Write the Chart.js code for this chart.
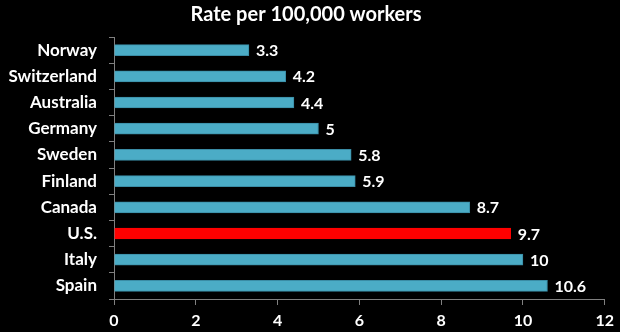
<!DOCTYPE html>
<html>
<head>
<meta charset="utf-8">
<script src="https://cdn.jsdelivr.net/npm/chart.js@4"></script>
<style>
  html, body { margin: 0; padding: 0; background: #000; }
  #wrap { width: 620px; height: 332px; }
</style>
</head>
<body>
<div id="wrap"><canvas id="myChart" width="620" height="332"></canvas></div>
<script>
const countries = ['Norway', 'Switzerland', 'Australia', 'Germany', 'Sweden', 'Finland', 'Canada', 'U.S.', 'Italy', 'Spain'];
const rates = [3.3, 4.2, 4.4, 5, 5.8, 5.9, 8.7, 9.7, 10, 10.6];
const highlight = 'U.S.';
const xTicks = [0, 2, 4, 6, 8, 10, 12];

const FONT = 'Lato, "Open Sans", sans-serif';
const blue = '#4BACC6';
const blueEdge = '#3A8CA5';
const red = '#FF0000';

// draws the value just past the end of each bar
const valueLabels = {
  id: 'valueLabels',
  afterDatasetsDraw(chart) {
    const ctx = chart.ctx;
    const meta = chart.getDatasetMeta(0);
    ctx.save();
    ctx.font = 'bold 16px ' + FONT;
    ctx.fillStyle = '#fff';
    ctx.textAlign = 'left';
    ctx.textBaseline = 'middle';
    meta.data.forEach((bar, i) => {
      ctx.fillText(String(rates[i]), bar.x + 7, bar.y + 1);
    });
    ctx.restore();
  }
};

const ctx = document.getElementById('myChart').getContext('2d');
new Chart(ctx, {
  type: 'bar',
  data: {
    labels: countries,
    datasets: [{
      data: rates,
      backgroundColor: countries.map(c => c === highlight ? red : blue),
      borderColor: countries.map(c => c === highlight ? red : blueEdge),
      borderWidth: 1,
      borderSkipped: 'start',
      barThickness: 11,
    }],
  },
  options: {
    indexAxis: 'y',
    responsive: false,
    animation: false,
    devicePixelRatio: 1,
    layout: { padding: { left: 0, right: 8, top: 0, bottom: 0 } },
    plugins: {
      legend: { display: false },
      tooltip: { enabled: false },
      title: {
        display: true,
        text: 'Rate per 100,000 workers',
        color: '#fff',
        font: { family: FONT, size: 20, weight: 'bold' },
        padding: { top: 3, bottom: 10 },
      },
    },
    scales: {
      x: {
        min: 0,
        max: 12,
        afterBuildTicks: scale => { scale.ticks = xTicks.map(v => ({ value: v })); },
        grid: { drawOnChartArea: false, drawTicks: true, tickLength: 6, color: '#808080' },
        border: { color: '#808080', width: 1 },
        ticks: { color: '#fff', font: { family: FONT, size: 16, weight: 'bold' }, padding: 6 },
        afterFit: scale => { scale.height = 33; },
      },
      y: {
        grid: { drawOnChartArea: false, drawTicks: true, tickLength: 5, color: '#808080', offset: true },
        border: { color: '#808080', width: 1 },
        ticks: { color: '#fff', font: { family: FONT, size: 17, weight: 'bold' }, padding: 12 },
        afterFit: scale => { scale.width = 114; },
      },
    },
  },
  plugins: [valueLabels],
});
</script>
</body>
</html>
